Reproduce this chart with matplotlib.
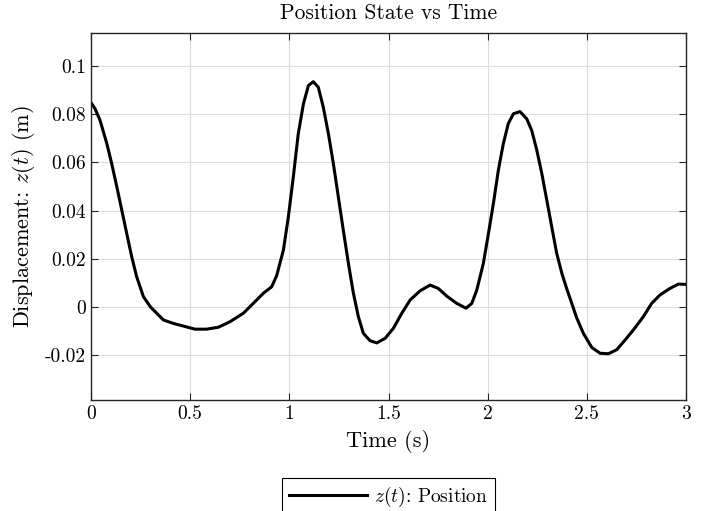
import matplotlib
matplotlib.use("Agg")
import matplotlib.pyplot as plt

plt.rcParams["font.family"] = "serif"
plt.rcParams["font.serif"] = ["cmr10", "DejaVu Serif"]
plt.rcParams["mathtext.fontset"] = "cm"
plt.rcParams["axes.formatter.use_mathtext"] = True

# values
t = [0.0, 0.02, 0.045, 0.079, 0.104, 0.130, 0.155, 0.180, 0.205, 0.230,
     0.264, 0.300, 0.365, 0.415, 0.465, 0.524, 0.583, 0.642, 0.701, 0.768,
     0.818, 0.869, 0.911, 0.936, 0.970, 0.995, 1.020, 1.045, 1.071, 1.096,
     1.121, 1.146, 1.171, 1.197, 1.222, 1.247, 1.272, 1.298, 1.323, 1.348,
     1.373, 1.407, 1.441, 1.483, 1.525, 1.567, 1.609, 1.659, 1.710, 1.751,
     1.794, 1.844, 1.891, 1.920, 1.945, 1.978, 2.004, 2.029, 2.054, 2.079,
     2.104, 2.130, 2.163, 2.197, 2.222, 2.248, 2.273, 2.298, 2.323, 2.348,
     2.374, 2.399, 2.424, 2.449, 2.483, 2.525, 2.567, 2.609, 2.651, 2.693,
     2.735, 2.785, 2.827, 2.869, 2.919, 2.962, 3.0]
z = [0.0848, 0.0823, 0.0776, 0.068, 0.0596, 0.0499, 0.0402, 0.0305, 0.0209, 0.0126,
     0.0043, 0.0, -0.0054, -0.0068, -0.0079, -0.0092, -0.0092, -0.0084, -0.0061, -0.0026,
     0.0015, 0.0057, 0.0084, 0.0130, 0.0236, 0.0374, 0.054, 0.0719, 0.0843, 0.0919,
     0.0935, 0.0912, 0.083, 0.0719, 0.0595, 0.0457, 0.0319, 0.018, 0.0057, -0.004,
     -0.0109, -0.0140, -0.0149, -0.013, -0.0088, -0.0026, 0.0029, 0.0067, 0.0091, 0.0077,
     0.0045, 0.0015, -0.0005, 0.0015, 0.0070, 0.018, 0.0305, 0.043, 0.0568, 0.0678,
     0.0761, 0.0802, 0.0811, 0.0781, 0.0733, 0.065, 0.0554, 0.0444, 0.0333, 0.0223,
     0.0140, 0.0075, 0.0015, -0.0045, -0.0110, -0.0168, -0.0192, -0.0194, -0.0177, -0.0137,
     -0.0095, -0.004, 0.0015, 0.005, 0.0077, 0.0095, 0.0094]

xticks = [0, 0.5, 1, 1.5, 2, 2.5, 3]
xticklabels = ["0", "0.5", "1", "1.5", "2", "2.5", "3"]
yticks = [-0.02, 0, 0.02, 0.04, 0.06, 0.08, 0.1]
yticklabels = ["-0.02", "0", "0.02", "0.04", "0.06", "0.08", "0.1"]

fig = plt.figure(figsize=(7.04, 5.11), dpi=100)
ax = fig.add_axes([0.1293, 0.2172, 0.8451, 0.7182])

ax.plot(t, z, color="black", linewidth=2.2, label="$z(t)$: Position",
        solid_joinstyle="round")

ax.set_xlim(0, 3)
ax.set_ylim(-0.0386, 0.1137)
ax.set_xticks(xticks)
ax.set_xticklabels(xticklabels)
ax.set_yticks(yticks)
ax.set_yticklabels(yticklabels)
ax.tick_params(direction="in", top=True, right=True, labelsize=14,
               length=5, width=0.8, color="#262626")
ax.grid(True, color="#dcdcdc", linewidth=0.8)
for s in ax.spines.values():
    s.set_color("#262626")
    s.set_linewidth(1.0)

ax.set_title("Position State vs Time", fontsize=15.5, pad=10)
ax.set_xlabel("Time (s)", fontsize=16, labelpad=5)
ax.set_ylabel("Displacement: $z(t)$ (m)", fontsize=16, labelpad=6)

leg = ax.legend(loc="upper center", bbox_to_anchor=(0.552, 0.0646),
                bbox_transform=fig.transFigure, fontsize=14, fancybox=False,
                framealpha=1, edgecolor="black", handlelength=4.0,
                borderpad=0.35, handletextpad=0.4, borderaxespad=0)
leg.get_frame().set_linewidth(0.8)

fig.savefig("out.png", dpi=100)
